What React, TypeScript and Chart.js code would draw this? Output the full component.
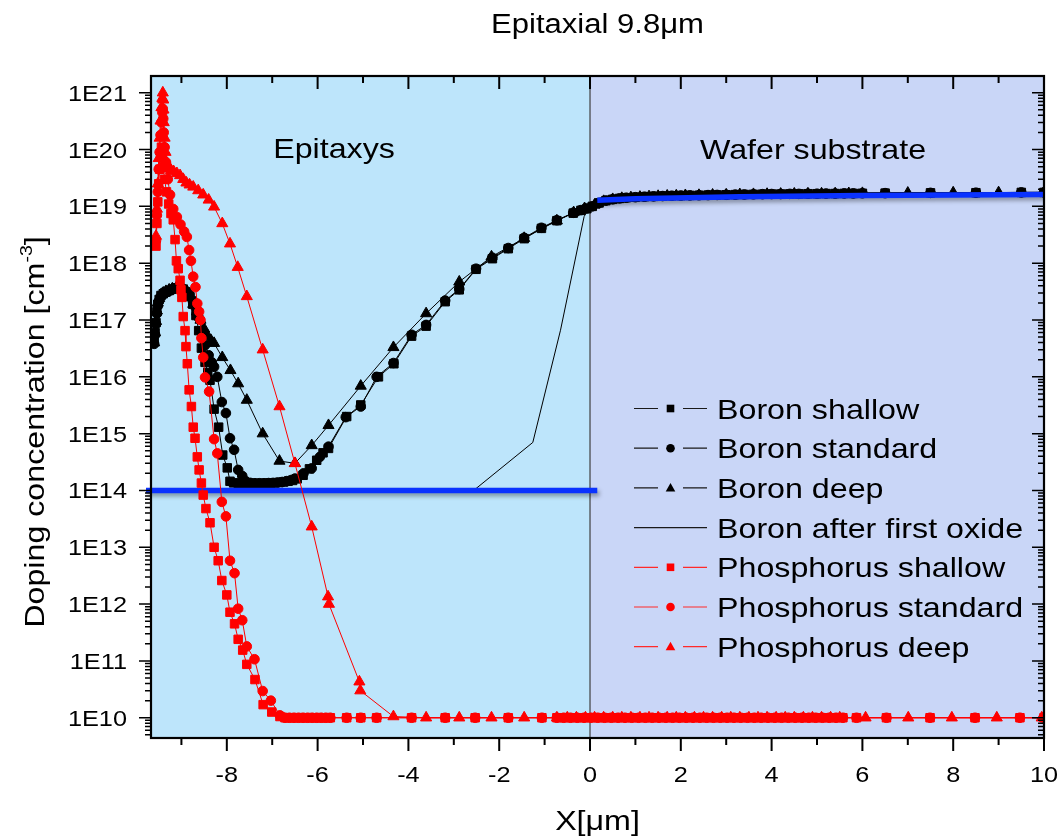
import React, { useEffect, useRef } from 'react';
import { Chart, registerables } from 'chart.js';

Chart.register(...registerables);

// ---------------- axes / text ----------------
const X_MIN = -9.67;
const X_MAX = 10;
const Y_MIN = 4.4e9;
const Y_MAX = 1.97e21;
const EPI_BOUNDARY = 0;

const xTickValues = [-8, -6, -4, -2, 0, 2, 4, 6, 8, 10];
const xTickLabels = ['-8', '-6', '-4', '-2', '0', '2', '4', '6', '8', '10'];
const yTickValues = [1e10, 1e11, 1e12, 1e13, 1e14, 1e15, 1e16, 1e17, 1e18, 1e19, 1e20, 1e21];
const yTickLabels = ['1E10', '1E11', '1E12', '1E13', '1E14', '1E15', '1E16', '1E17', '1E18', '1E19', '1E20', '1E21'];

const TITLE = 'Epitaxial 9.8\u03bcm';
const X_TITLE = 'X[\u03bcm]';
const Y_TITLE_MAIN = 'Doping concentration [cm';
const Y_TITLE_SUP = '-3';
const Y_TITLE_END = ']';
const REGION_LEFT = 'Epitaxys';
const REGION_RIGHT = 'Wafer substrate';

const seriesNames = [
  'Boron shallow',
  'Boron standard',
  'Boron deep',
  'Boron after first oxide',
  'Phosphorus shallow',
  'Phosphorus standard',
  'Phosphorus deep',
];

// ---------------- data ----------------
const boronShallow: [number, number][] = [
  [-9.60, 4.2e16], [-9.58, 6.0e16], [-9.56, 9.0e16], [-9.54, 1.4e17], [-9.52, 1.9e17], [-9.49, 2.3e17],
  [-9.45, 2.7e17], [-9.40, 2.9e17], [-9.34, 3.1e17], [-9.27, 3.3e17], [-9.20, 3.5e17], [-9.12, 3.7e17],
  [-9.04, 3.7e17], [-8.96, 3.5e17], [-8.89, 3.1e17], [-8.82, 2.6e17], [-8.75, 1.9e17], [-8.68, 1.2e17],
  [-8.62, 6.5e16], [-8.56, 3.2e16], [-8.48, 1.8e16], [-8.42, 1.2e16], [-8.37, 8.7e15], [-8.28, 2.7e15],
  [-8.18, 1.3e15], [-8.09, 4.2e14], [-7.99, 2.5e14], [-7.93, 1.45e14], [-7.85, 1.36e14], [-7.75, 1.34e14],
  [-7.65, 1.33e14], [-7.55, 1.33e14], [-7.45, 1.33e14], [-7.35, 1.33e14], [-7.25, 1.33e14], [-7.15, 1.34e14],
  [-7.05, 1.35e14], [-6.95, 1.36e14], [-6.85, 1.38e14], [-6.75, 1.41e14], [-6.65, 1.45e14], [-6.55, 1.5e14],
  [-6.45, 1.6e14], [-6.32, 1.85e14], [-6.18, 2.4e14], [-6.02, 3.4e14], [-5.88, 4.6e14], [-5.76, 5.5e14],
  [-5.36, 2.0e15], [-5.05, 3.2e15], [-4.66, 1.0e16], [-4.32, 1.7e16], [-3.93, 5.2e16], [-3.61, 7.8e16],
  [-3.19, 2.1e17], [-2.88, 3.4e17], [-2.51, 7.8e17], [-2.15, 1.2e18], [-1.80, 1.8e18], [-1.45, 2.7e18],
  [-1.07, 4.1e18], [-0.73, 5.6e18], [-0.37, 7.6e18], [-0.20, 8.5e18], [-0.07, 9.1e18],
];

const boronStandard: [number, number][] = [
  [-9.60, 3.8e16], [-9.58, 5.5e16], [-9.56, 8.5e16], [-9.54, 1.3e17], [-9.52, 1.8e17], [-9.49, 2.2e17],
  [-9.45, 2.6e17], [-9.40, 2.85e17], [-9.34, 3.05e17], [-9.27, 3.25e17], [-9.20, 3.45e17], [-9.12, 3.6e17],
  [-9.04, 3.65e17], [-8.96, 3.5e17], [-8.89, 3.2e17], [-8.82, 2.8e17], [-8.75, 2.2e17], [-8.68, 1.6e17],
  [-8.62, 1.1e17], [-8.55, 6.5e16], [-8.48, 3.6e16], [-8.40, 2.4e16], [-8.33, 1.8e16], [-8.28, 1.5e16],
  [-8.21, 1.0e16], [-8.11, 3.6e15], [-8.02, 2.3e15], [-7.93, 8.3e14], [-7.84, 5.2e14], [-7.75, 2.3e14],
  [-7.66, 1.8e14], [-7.58, 1.45e14], [-7.48, 1.36e14], [-7.38, 1.34e14], [-7.28, 1.34e14], [-7.18, 1.34e14],
  [-7.08, 1.35e14], [-6.98, 1.36e14], [-6.88, 1.38e14], [-6.78, 1.41e14], [-6.68, 1.46e14], [-6.58, 1.53e14],
  [-6.50, 1.62e14], [-6.31, 2.0e14], [-6.13, 2.45e14], [-5.95, 3.9e14], [-5.76, 5.9e14], [-5.38, 1.95e15],
  [-5.05, 3.0e15], [-4.70, 1.0e16], [-4.33, 1.75e16], [-3.93, 5.5e16], [-3.61, 8.2e16], [-3.19, 2.2e17],
  [-2.88, 3.5e17], [-2.51, 8.0e17], [-2.15, 1.25e18], [-1.80, 1.85e18], [-1.45, 2.8e18], [-1.07, 4.2e18],
  [-0.73, 5.7e18], [-0.37, 7.7e18], [-0.20, 8.6e18], [-0.07, 9.2e18],
];

const boronDeep: [number, number][] = [
  [-9.60, 4.0e16], [-9.58, 6.0e16], [-9.56, 9.5e16], [-9.54, 1.45e17], [-9.52, 2.0e17], [-9.49, 2.4e17],
  [-9.45, 2.8e17], [-9.40, 3.0e17], [-9.34, 3.2e17], [-9.27, 3.4e17], [-9.20, 3.55e17], [-9.12, 3.65e17],
  [-9.04, 3.6e17], [-8.96, 3.4e17], [-8.89, 3.0e17], [-8.82, 2.5e17], [-8.74, 1.9e17], [-8.66, 1.4e17],
  [-8.58, 1.0e17], [-8.50, 7.0e16], [-8.42, 5.2e16], [-8.35, 4.4e16], [-8.28, 3.9e16], [-8.10, 2.2e16],
  [-7.92, 1.3e16], [-7.75, 7.6e15], [-7.56, 3.9e15], [-7.21, 1.0e15], [-6.84, 3.3e14], [-6.50, 3.0e14],
  [-6.13, 6.2e14], [-5.76, 1.4e15], [-5.05, 6.9e15], [-4.33, 3.3e16], [-3.61, 1.3e17], [-2.88, 4.7e17],
  [-2.17, 1.3e18], [-1.45, 2.75e18], [-0.73, 5.6e18], [-0.36, 7.8e18], [-0.12, 9.2e18],
];

// boron in the substrate (x > 0)
const boronSubstrateA: [number, number][] = [
  [0.05, 1.0e19], [0.2, 1.15e19], [0.35, 1.26e19], [0.5, 1.33e19], [0.65, 1.38e19], [0.8, 1.42e19],
  [1.0, 1.45e19], [1.2, 1.48e19], [1.4, 1.5e19], [1.6, 1.52e19], [1.8, 1.54e19], [2.0, 1.55e19],
  [2.2, 1.56e19], [2.4, 1.57e19], [2.6, 1.58e19], [2.8, 1.59e19], [3.0, 1.6e19], [3.2, 1.61e19],
  [3.4, 1.62e19], [3.6, 1.63e19], [3.8, 1.64e19], [4.0, 1.65e19], [4.2, 1.65e19], [4.4, 1.66e19],
  [4.6, 1.66e19], [4.8, 1.67e19], [5.0, 1.67e19], [5.2, 1.68e19], [5.4, 1.68e19], [5.6, 1.69e19],
  [5.8, 1.69e19], [6.0, 1.7e19], [6.5, 1.71e19], [7.5, 1.73e19], [8.5, 1.74e19], [9.5, 1.76e19], [10.0, 1.76e19],
];
const boronSubstrateB: [number, number][] = [
  [0.1, 1.06e19], [0.3, 1.23e19], [0.5, 1.33e19], [0.7, 1.39e19], [0.9, 1.43e19], [1.1, 1.46e19],
  [1.3, 1.49e19], [1.5, 1.51e19], [1.7, 1.53e19], [1.9, 1.54e19], [2.1, 1.56e19], [2.4, 1.57e19],
  [2.7, 1.59e19], [3.0, 1.6e19], [3.3, 1.62e19], [3.6, 1.63e19], [3.9, 1.64e19], [4.2, 1.65e19],
  [4.5, 1.66e19], [4.8, 1.67e19], [5.1, 1.67e19], [5.4, 1.68e19], [5.7, 1.69e19], [6.0, 1.7e19],
  [7.0, 1.72e19], [8.0, 1.74e19], [9.0, 1.75e19], [10.0, 1.76e19],
];

const boronAfterOxide: [number, number][] = [
  [-9.67, 1.0e14], [-2.53, 1.05e14], [-1.26, 7.0e14], [-0.65, 6.6e16], [-0.13, 6.6e18], [0.05, 1.2e19],
  [0.3, 1.5e19], [0.8, 1.6e19], [2.0, 1.65e19], [5.0, 1.72e19], [10.0, 1.76e19],
];

const phosShallow: [number, number][] = [
  [-9.56, 2.0e18], [-9.54, 5.0e18], [-9.52, 1.2e19], [-9.50, 2.5e19], [-9.48, 4.5e19], [-9.46, 7.5e19],
  [-9.44, 1.1e20], [-9.42, 8.0e19], [-9.40, 5.0e19], [-9.37, 3.0e19], [-9.33, 1.8e19], [-9.28, 1.1e19],
  [-9.23, 7.5e18], [-9.18, 5.8e18], [-9.14, 2.6e18], [-9.11, 1.1e18], [-9.07, 8.0e17], [-9.03, 5.0e17],
  [-9.01, 3.4e17], [-8.99, 2.5e17], [-8.96, 1.15e17], [-8.92, 6.5e16], [-8.90, 3.4e16], [-8.87, 1.7e16],
  [-8.83, 5.9e15], [-8.78, 3.0e15], [-8.74, 1.3e15], [-8.70, 8.3e14], [-8.65, 3.9e14], [-8.61, 2.3e14],
  [-8.56, 1.35e14], [-8.52, 8.3e13], [-8.46, 4.8e13], [-8.37, 2.7e13], [-8.28, 1.0e13], [-8.19, 5.8e12],
  [-8.11, 2.6e12], [-8.00, 1.45e12], [-7.93, 7.2e11], [-7.83, 4.5e11], [-7.75, 2.4e11], [-7.65, 1.55e11],
  [-7.56, 8.7e10], [-7.38, 4.7e10], [-7.20, 1.7e10], [-7.01, 1.26e10], [-6.83, 1.05e10],
];

const phosStandard: [number, number][] = [
  [-9.56, 2.5e18], [-9.54, 7.0e18], [-9.52, 1.8e19], [-9.50, 4.5e19], [-9.48, 9.0e19], [-9.46, 1.8e20],
  [-9.44, 3.0e20], [-9.42, 4.5e20], [-9.41, 5.2e20], [-9.40, 3.5e20], [-9.39, 2.0e20], [-9.37, 1.1e20],
  [-9.34, 6.0e19], [-9.30, 3.0e19], [-9.25, 1.6e19], [-9.18, 9.0e18], [-9.10, 6.5e18], [-9.02, 4.8e18],
  [-8.94, 3.6e18], [-8.88, 2.9e18], [-8.83, 1.7e18], [-8.79, 1.1e18], [-8.74, 5.8e17], [-8.69, 3.8e17],
  [-8.65, 1.95e17], [-8.61, 1.4e17], [-8.58, 1.0e17], [-8.56, 4.8e16], [-8.52, 2.2e16], [-8.48, 9.8e15],
  [-8.39, 5.5e15], [-8.28, 8.0e14], [-8.21, 4.5e14], [-8.11, 6.3e13], [-8.02, 3.5e13], [-7.93, 5.8e12],
  [-7.83, 3.5e12], [-7.75, 8.3e11], [-7.66, 5.2e11], [-7.56, 1.8e11], [-7.39, 1.07e11], [-7.21, 2.95e10],
  [-7.03, 2.0e10], [-6.83, 1.1e10],
];

const phosDeep: [number, number][] = [
  [-9.56, 3.0e18], [-9.54, 9.0e18], [-9.52, 2.5e19], [-9.50, 7.0e19], [-9.48, 1.6e20], [-9.46, 3.2e20],
  [-9.44, 5.5e20], [-9.42, 8.0e20], [-9.41, 1.0e21], [-9.40, 7.5e20], [-9.395, 5.0e20], [-9.39, 3.0e20],
  [-9.37, 1.6e20], [-9.35, 9.0e19], [-9.32, 5.8e19], [-9.28, 4.6e19], [-9.23, 4.3e19], [-9.17, 4.1e19],
  [-9.10, 3.8e19], [-9.03, 3.5e19], [-8.96, 3.0e19], [-8.89, 2.6e19], [-8.82, 2.4e19], [-8.74, 2.2e19],
  [-8.63, 1.9e19], [-8.52, 1.6e19], [-8.40, 1.3e19], [-8.28, 9.8e18], [-8.10, 5.0e18], [-7.93, 2.2e18],
  [-7.76, 8.5e17], [-7.56, 2.6e17], [-7.21, 3.0e16], [-6.84, 3.0e15], [-6.50, 3.0e14], [-6.13, 2.3e13],
  [-5.77, 1.35e12], [-5.75, 1.0e12], [-5.08, 4.3e10], [-5.06, 3.0e10], [-4.33, 1.05e10],
];

// phosphorus background level and the x positions of the markers lying on it
const PHOS_BACKGROUND = 1e10;
const phosTailSqCircX = [
  -6.72, -6.62, -6.52, -6.42, -6.32, -6.22, -6.12, -6.02, -5.92, -5.82, -5.72, -5.36, -5.05, -4.70,
  -3.93, -3.19, -2.53, -1.80, -1.06, -0.73, -0.58, -0.43, -0.28, -0.13, 0.02, 0.17, 0.32, 0.47, 0.62,
  0.77, 0.92, 1.07, 1.22, 1.37, 1.52, 1.67, 1.82, 1.97, 2.12, 2.27, 2.42, 2.57, 2.72, 2.87, 3.02, 3.17,
  3.32, 3.47, 3.62, 3.77, 3.92, 4.07, 4.22, 4.37, 4.52, 4.67, 4.82, 4.97, 5.12, 5.27, 5.42, 5.57, 5.87,
  6.53, 7.49, 8.48, 9.47, 10.0,
];
const phosTailTriX = [
  -3.61, -2.88, -2.17, -1.45, -0.73, -0.50, -0.30, -0.10, 0.10, 0.30, 0.50, 0.70, 0.90, 1.10, 1.30, 1.50,
  1.70, 1.90, 2.10, 2.30, 2.50, 2.70, 2.90, 3.10, 3.30, 3.50, 3.70, 3.90, 4.10, 4.30, 4.50, 4.70, 4.90,
  5.10, 5.30, 5.50, 6.07, 7.01, 7.97, 8.96, 9.95,
];

// blue reference lines
const blueEpi: [number, number][] = [[-9.78, 1.0e14], [0.16, 1.0e14]];
const blueSubstrate: [number, number][] = [[0.16, 1.28e19], [1.0, 1.36e19], [3.3, 1.48e19], [6.0, 1.55e19], [10.0, 1.62e19]];

// ---------------- styling ----------------
const BLACK = '#000000';
const RED = '#ff0000';
const BLUE = '#0a32ff';
const BG_EPI = '#bde5fb';
const BG_SUB = '#c9d6f7';
const FONT = '"Liberation Sans", Arial, Helvetica, sans-serif';
const STRETCH = 1.15;

const toPts = (arr: [number, number][]) => arr.map(([x, y]) => ({ x, y }));
const onLevel = (xs: number[], level: number) => xs.map((x) => ({ x, y: level }));

function markerSeries(label: string, data: any[], color: string, style: string, radius: number, order: number) {
  return {
    label,
    data,
    showLine: true,
    borderColor: color,
    borderWidth: 1,
    backgroundColor: color,
    pointBackgroundColor: color,
    pointBorderColor: color,
    pointBorderWidth: 1,
    pointStyle: style,
    pointRadius: radius,
    pointHoverRadius: radius,
    fill: false,
    order,
  };
}

function drawText(
  ctx: CanvasRenderingContext2D, s: string, x: number, y: number, size: number,
  align: CanvasTextAlign, baseline: CanvasTextBaseline = 'alphabetic', rot = 0,
) {
  ctx.save();
  ctx.translate(x, y);
  if (rot) ctx.rotate(rot);
  ctx.scale(STRETCH, 1);
  ctx.font = `${size}px ${FONT}`;
  ctx.textAlign = align;
  ctx.textBaseline = baseline;
  ctx.fillStyle = '#000';
  ctx.fillText(s, 0, 0);
  ctx.restore();
}

function drawMarker(ctx: CanvasRenderingContext2D, style: string, x: number, y: number, color: string) {
  ctx.fillStyle = color;
  ctx.beginPath();
  if (style === 'rect') {
    ctx.rect(x - 3.8, y - 3.8, 7.6, 7.6);
  } else if (style === 'circle') {
    ctx.arc(x, y, 4.3, 0, Math.PI * 2);
  } else if (style === 'triangle') {
    ctx.moveTo(x, y - 5);
    ctx.lineTo(x + 4.8, y + 3.6);
    ctx.lineTo(x - 4.8, y + 3.6);
    ctx.closePath();
  }
  ctx.fill();
}

const legendStyles = [
  { color: BLACK, marker: 'rect' },
  { color: BLACK, marker: 'circle' },
  { color: BLACK, marker: 'triangle' },
  { color: BLACK, marker: '' },
  { color: RED, marker: 'rect' },
  { color: RED, marker: 'circle' },
  { color: RED, marker: 'triangle' },
];

const backgroundPlugin = {
  id: 'regionBackground',
  beforeDatasetsDraw(chart: any) {
    const { ctx, chartArea } = chart;
    const { left, right, top, bottom } = chartArea;
    const x0 = chart.scales.x.getPixelForValue(EPI_BOUNDARY);
    ctx.save();
    ctx.fillStyle = BG_EPI;
    ctx.fillRect(left, top, x0 - left, bottom - top);
    ctx.fillStyle = BG_SUB;
    ctx.fillRect(x0, top, right - x0, bottom - top);
    ctx.strokeStyle = '#404040';
    ctx.lineWidth = 1.2;
    ctx.beginPath();
    ctx.moveTo(x0, top);
    ctx.lineTo(x0, bottom);
    ctx.stroke();
    ctx.restore();
  },
};

const shadowPlugin = {
  id: 'blueShadow',
  beforeDatasetDraw(chart: any, args: any) {
    const ds = chart.data.datasets[args.index];
    if (ds.shadow) {
      const ctx = chart.ctx;
      ctx.save();
      ctx.shadowColor = 'rgba(0,0,0,0.35)';
      ctx.shadowBlur = 4;
      ctx.shadowOffsetX = 2;
      ctx.shadowOffsetY = 3;
    }
  },
  afterDatasetDraw(chart: any, args: any) {
    const ds = chart.data.datasets[args.index];
    if (ds.shadow) chart.ctx.restore();
  },
};

const overlayPlugin = {
  id: 'overlay',
  afterDraw(chart: any) {
    const { ctx, chartArea } = chart;
    const { left, right, top, bottom } = chartArea;
    const xs = chart.scales.x;
    const ys = chart.scales.y;
    ctx.save();

    // ticks
    ctx.strokeStyle = '#000';
    ctx.lineWidth = 2;
    ctx.beginPath();
    for (let v = Math.ceil(X_MIN); v <= X_MAX; v++) {
      const px = xs.getPixelForValue(v);
      const len = v % 2 === 0 ? 13 : 7;
      ctx.moveTo(px, bottom);
      ctx.lineTo(px, bottom + len);
      ctx.moveTo(px, top);
      ctx.lineTo(px, top + len);
    }
    ctx.stroke();
    ctx.lineWidth = 1.5;
    ctx.beginPath();
    for (let d = 9; d <= 21; d++) {
      for (let m = 1; m <= 9; m++) {
        const v = m * Math.pow(10, d);
        if (v < Y_MIN || v > Y_MAX) continue;
        const py = ys.getPixelForValue(v);
        const len = m === 1 ? 12 : 6;
        ctx.moveTo(left - len, py);
        ctx.lineTo(left, py);
        ctx.moveTo(right - len, py);
        ctx.lineTo(right, py);
      }
    }
    ctx.stroke();

    // frame
    ctx.lineWidth = 2.2;
    ctx.strokeRect(left, top, right - left, bottom - top);

    // tick labels
    xTickValues.forEach((v, i) => {
      drawText(ctx, xTickLabels[i], xs.getPixelForValue(v), bottom + 44, 22, 'center');
    });
    yTickValues.forEach((v, i) => {
      drawText(ctx, yTickLabels[i], left - 24, ys.getPixelForValue(v) + 8, 22, 'right');
    });

    // titles
    drawText(ctx, TITLE, (left + right) / 2, 33, 27, 'center');
    drawText(ctx, X_TITLE, (left + right) / 2, 830, 28, 'center');

    // y title with superscript
    ctx.save();
    ctx.translate(44, 432);
    ctx.rotate(-Math.PI / 2);
    ctx.scale(STRETCH, 1);
    ctx.fillStyle = '#000';
    ctx.textBaseline = 'alphabetic';
    ctx.textAlign = 'left';
    ctx.font = `28px ${FONT}`;
    const w1 = ctx.measureText(Y_TITLE_MAIN).width;
    const w3 = ctx.measureText(Y_TITLE_END).width;
    ctx.font = `17px ${FONT}`;
    const w2 = ctx.measureText(Y_TITLE_SUP).width;
    const start = -(w1 + w2 + w3) / 2;
    ctx.font = `28px ${FONT}`;
    ctx.fillText(Y_TITLE_MAIN, start, 0);
    ctx.font = `17px ${FONT}`;
    ctx.fillText(Y_TITLE_SUP, start + w1, -12);
    ctx.font = `28px ${FONT}`;
    ctx.fillText(Y_TITLE_END, start + w1 + w2, 0);
    ctx.restore();

    // region labels
    drawText(ctx, REGION_LEFT, 334, 158, 28, 'center');
    drawText(ctx, REGION_RIGHT, 813, 159, 28, 'center');

    // legend
    const rowY0 = 408.5;
    const rowStep = 39.7;
    seriesNames.forEach((name, i) => {
      const y = rowY0 + i * rowStep;
      const st = legendStyles[i];
      ctx.strokeStyle = st.color === RED ? '#ff2a2a' : '#1a1a1a';
      ctx.lineWidth = 1.2;
      ctx.beginPath();
      if (st.marker) {
        ctx.moveTo(634, y);
        ctx.lineTo(658, y);
        ctx.moveTo(683, y);
        ctx.lineTo(707, y);
      } else {
        ctx.moveTo(634, y);
        ctx.lineTo(707, y);
      }
      ctx.stroke();
      if (st.marker) drawMarker(ctx, st.marker, 670.5, y, st.color);
      drawText(ctx, name, 717, y + 10, 28, 'left');
    });

    ctx.restore();
  },
};

export default function App() {
  const canvasRef = useRef<HTMLCanvasElement>(null);

  useEffect(() => {
    const canvas = canvasRef.current;
    if (!canvas) return;

    const datasets: any[] = [
      markerSeries(seriesNames[4], [...toPts(phosShallow), ...onLevel(phosTailSqCircX, PHOS_BACKGROUND)], RED, 'rect', 6.0, 1),
      markerSeries(seriesNames[5], [...toPts(phosStandard), ...onLevel(phosTailSqCircX, PHOS_BACKGROUND)], RED, 'circle', 4.8, 2),
      markerSeries(seriesNames[6], [...toPts(phosDeep), ...onLevel(phosTailTriX, PHOS_BACKGROUND)], RED, 'triangle', 6.4, 3),
      {
        label: 'epi reference', data: toPts(blueEpi), showLine: true, borderColor: BLUE, borderWidth: 5.5,
        pointRadius: 0, fill: false, order: 4, shadow: true, borderCapStyle: 'butt',
        clip: { left: 5, right: 0, top: 0, bottom: 0 },
      },
      {
        label: 'substrate reference', data: toPts(blueSubstrate), showLine: true, borderColor: BLUE, borderWidth: 5.5,
        pointRadius: 0, fill: false, order: 4, shadow: true, borderCapStyle: 'butt',
      },
      markerSeries(seriesNames[0], [...toPts(boronShallow), ...toPts(boronSubstrateA)], BLACK, 'rect', 6.0, 5),
      markerSeries(seriesNames[1], [...toPts(boronStandard), ...toPts(boronSubstrateA)], BLACK, 'circle', 4.8, 6),
      markerSeries(seriesNames[2], [...toPts(boronDeep), ...toPts(boronSubstrateB)], BLACK, 'triangle', 6.4, 7),
      {
        label: seriesNames[3], data: toPts(boronAfterOxide), showLine: true, borderColor: BLACK, borderWidth: 1,
        pointRadius: 0, fill: false, order: 8,
      },
    ];

    const chart = new Chart(canvas, {
      type: 'scatter',
      data: { datasets },
      options: {
        animation: false,
        responsive: false,
        devicePixelRatio: 1,
        layout: { padding: { left: 151, right: 13, top: 76, bottom: 102 } },
        scales: {
          x: { type: 'linear', min: X_MIN, max: X_MAX, display: false },
          y: { type: 'logarithmic', min: Y_MIN, max: Y_MAX, display: false },
        },
        plugins: {
          legend: { display: false },
          tooltip: { enabled: false },
          title: { display: false },
        },
        elements: { line: { tension: 0 } },
      } as any,
      plugins: [backgroundPlugin, shadowPlugin, overlayPlugin],
    });

    return () => chart.destroy();
  }, []);

  return (
    <canvas
      ref={canvasRef}
      width={1057}
      height={840}
      style={{ position: 'absolute', left: 0, top: 0, width: 1057, height: 840, display: 'block' }}
    />
  );
}
